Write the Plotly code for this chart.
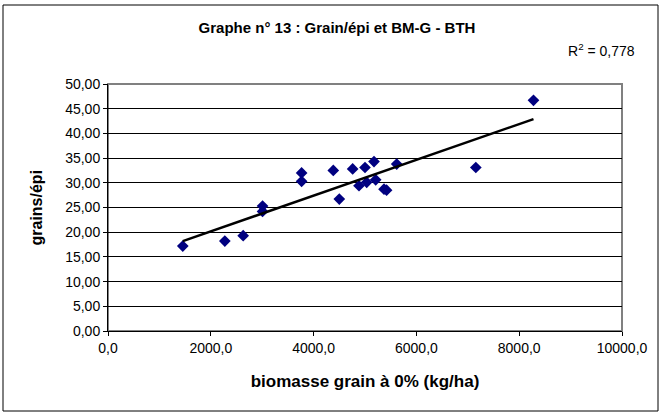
import numpy as np
import plotly.graph_objects as go

# biomasse grain (kg/ha) vs grains/épi
biomasse = [1455, 2273, 2630, 3007, 3007, 3767, 3767, 4383, 4500, 4760, 4883,
            5000, 5033, 5175, 5208, 5370, 5420, 5617, 7156, 8278]
grains_epi = [17.2, 18.2, 19.3, 25.3, 24.2, 32.0, 30.3, 32.5, 26.7, 32.8, 29.4,
              33.1, 30.1, 34.3, 30.6, 28.7, 28.5, 33.8, 33.1, 46.7]

x_ticks = [0, 2000, 4000, 6000, 8000, 10000]
y_ticks = [0, 5, 10, 15, 20, 25, 30, 35, 40, 45, 50]

# linear trend (Excel style)
a, b = np.polyfit(biomasse, grains_epi, 1)
x_fit = np.array([min(biomasse), max(biomasse)])
y_fit = a * x_fit + b

fig = go.Figure()
fig.add_trace(go.Scatter(x=biomasse, y=grains_epi, mode="markers",
                         marker=dict(symbol="diamond", size=9, color="#000080"),
                         showlegend=False))
fig.add_trace(go.Scatter(x=x_fit, y=y_fit, mode="lines",
                         line=dict(color="black", width=2.5), showlegend=False))

W, H = 662, 416
L, R, T, B = 108, 40, 84, 85
pw, ph = W - L - R, H - T - B


def px(x):
    return (x - L) / pw


def py(y):
    return (H - B - y) / ph


fig.update_layout(
    width=W, height=H,
    margin=dict(l=L, r=R, t=T, b=B),
    paper_bgcolor="white", plot_bgcolor="white",
    separators=",.",
    font=dict(family="Liberation Sans, Arial, sans-serif", size=14, color="black"),
    title=dict(text="<b>Graphe n° 13 : Grain/épi et BM-G - BTH</b>",
               x=px(337), xanchor="center", xref="paper",
               y=1 - 28 / H, yanchor="middle",
               font=dict(size=15)),
    xaxis=dict(range=[0, 10000], tickvals=x_ticks, tickformat=".1f",
               showgrid=False, zeroline=False, showline=True, linecolor="black",
               linewidth=1, ticks="outside", ticklen=4, tickcolor="black",
               title=dict(text="<b>biomasse grain à 0% (kg/ha)</b>", standoff=20),
               mirror=False),
    yaxis=dict(range=[0, 50], tickvals=y_ticks, tickformat=".2f",
               showgrid=True, gridcolor="black", gridwidth=1, zeroline=False,
               showline=True, linecolor="black", linewidth=1,
               ticks="outside", ticklen=4, tickcolor="black"),
    shapes=[
        # plot area border (gray, top/right)
        dict(type="rect", xref="paper", yref="paper", x0=0, x1=1, y0=0, y1=1,
             line=dict(color="#808080", width=2), layer="below"),
        # chart outer border
        dict(type="rect", xref="paper", yref="paper",
             x0=px(3), x1=px(658), y0=py(411), y1=py(5),
             line=dict(color="black", width=1)),
    ],
    annotations=[
        dict(text="R<sup>2</sup> = 0,778", xref="paper", yref="paper",
             x=px(566), y=py(50), xanchor="left", yanchor="middle",
             showarrow=False, font=dict(size=14)),
        dict(text="<b>grains/épi</b>", xref="paper", yref="paper",
             x=px(36), y=0.5, xanchor="center", yanchor="middle",
             textangle=-90, showarrow=False, font=dict(size=16)),
    ],
)

fig.write_html("out.html", config={"displayModeBar": False},
               post_script="document.body.style.margin='0';")
